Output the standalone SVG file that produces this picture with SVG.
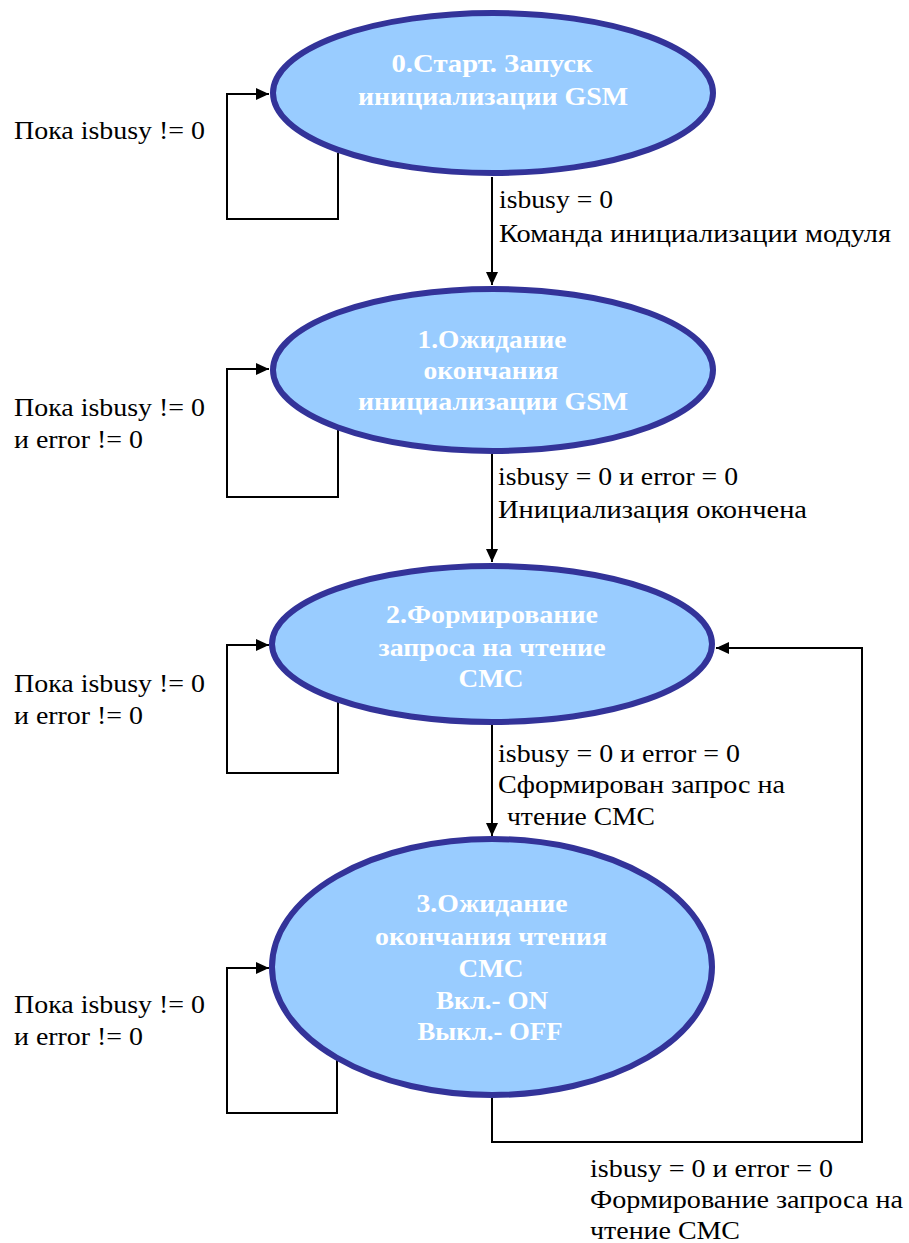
<svg xmlns="http://www.w3.org/2000/svg" width="909" height="1243" viewBox="0 0 909 1243">
<style>
.state{fill:#99CCFF;stroke:#333399;stroke-width:6}
.st{font-family:'Liberation Serif','Times New Roman',serif;font-size:25px;font-weight:bold;fill:#FFFFFF;text-anchor:middle}
.lbl{font-family:'Liberation Serif','Times New Roman',serif;font-size:25px;fill:#000000}
.conn{fill:none;stroke:#000000;stroke-width:2}
</style>
<defs>
<marker id="arr" markerUnits="userSpaceOnUse" markerWidth="14" markerHeight="14" viewBox="0 0 14 14" refX="13" refY="7" orient="auto">
<path d="M0,1 L13,7 L0,13 Z" fill="#000000"/>
</marker>
</defs>
<rect width="909" height="1243" fill="#FFFFFF"/>
<g id="connectors">
<path class="conn" d="M338,153 V219 H227 V94 H269" marker-end="url(#arr)"/>
<path class="conn" d="M338,430 V497 H227 V369 H269" marker-end="url(#arr)"/>
<path class="conn" d="M338,701 V773 H227 V645 H269" marker-end="url(#arr)"/>
<path class="conn" d="M337,1060 V1113 H227 V968 H269" marker-end="url(#arr)"/>
<path class="conn" d="M492,177 V285" marker-end="url(#arr)"/>
<path class="conn" d="M492,454 V562" marker-end="url(#arr)"/>
<path class="conn" d="M492,723 V836" marker-end="url(#arr)"/>
<path class="conn" d="M492,1097 V1142 H862 V648 H716" marker-end="url(#arr)"/>
<text class="lbl" x="14" y="139" textLength="191" lengthAdjust="spacingAndGlyphs">Пока isbusy != 0</text>
<text class="lbl" x="14" y="416" textLength="191" lengthAdjust="spacingAndGlyphs">Пока isbusy != 0</text>
<text class="lbl" x="14" y="448" textLength="129" lengthAdjust="spacingAndGlyphs">и error != 0</text>
<text class="lbl" x="14" y="692" textLength="191" lengthAdjust="spacingAndGlyphs">Пока isbusy != 0</text>
<text class="lbl" x="14" y="724" textLength="129" lengthAdjust="spacingAndGlyphs">и error != 0</text>
<text class="lbl" x="14" y="1013" textLength="191" lengthAdjust="spacingAndGlyphs">Пока isbusy != 0</text>
<text class="lbl" x="14" y="1045" textLength="129" lengthAdjust="spacingAndGlyphs">и error != 0</text>
<text class="lbl" x="499" y="208" textLength="114" lengthAdjust="spacingAndGlyphs">isbusy = 0</text>
<text class="lbl" x="499" y="242" textLength="392" lengthAdjust="spacingAndGlyphs">Команда инициализации модуля</text>
<text class="lbl" x="498" y="485" textLength="240" lengthAdjust="spacingAndGlyphs">isbusy = 0 и error = 0</text>
<text class="lbl" x="498" y="518" textLength="309" lengthAdjust="spacingAndGlyphs">Инициализация окончена</text>
<text class="lbl" x="498" y="762" textLength="242" lengthAdjust="spacingAndGlyphs">isbusy = 0 и error = 0</text>
<text class="lbl" x="498" y="793" textLength="287" lengthAdjust="spacingAndGlyphs">Сформирован запрос на</text>
<text class="lbl" x="507" y="825" textLength="148" lengthAdjust="spacingAndGlyphs">чтение СМС</text>
<text class="lbl" x="590" y="1177" textLength="243" lengthAdjust="spacingAndGlyphs">isbusy = 0 и error = 0</text>
<text class="lbl" x="590" y="1208" textLength="313" lengthAdjust="spacingAndGlyphs">Формирование запроса на</text>
<text class="lbl" x="590" y="1239" textLength="150" lengthAdjust="spacingAndGlyphs">чтение СМС</text>
</g>
<g id="state0">
<ellipse class="state" cx="493" cy="93" rx="220" ry="80"/>
<text class="st" x="492" y="72" textLength="201" lengthAdjust="spacingAndGlyphs">0.Старт. Запуск</text>
<text class="st" x="493" y="105" textLength="270" lengthAdjust="spacingAndGlyphs">инициализации GSM</text>
</g>
<g id="state1">
<ellipse class="state" cx="493" cy="370" rx="220" ry="81"/>
<text class="st" x="492" y="348" textLength="149" lengthAdjust="spacingAndGlyphs">1.Ожидание</text>
<text class="st" x="491" y="379" textLength="135" lengthAdjust="spacingAndGlyphs">окончания</text>
<text class="st" x="493" y="410" textLength="270" lengthAdjust="spacingAndGlyphs">инициализации GSM</text>
</g>
<g id="state2">
<ellipse class="state" cx="492" cy="644" rx="220" ry="78"/>
<text class="st" x="492" y="623" textLength="212" lengthAdjust="spacingAndGlyphs">2.Формирование</text>
<text class="st" x="492" y="656" textLength="227" lengthAdjust="spacingAndGlyphs">запроса на чтение</text>
<text class="st" x="491" y="687" textLength="65" lengthAdjust="spacingAndGlyphs">СМС</text>
</g>
<g id="state3">
<ellipse class="state" cx="492" cy="967" rx="220" ry="128"/>
<text class="st" x="492" y="912" textLength="151" lengthAdjust="spacingAndGlyphs">3.Ожидание</text>
<text class="st" x="491" y="945" textLength="232" lengthAdjust="spacingAndGlyphs">окончания чтения</text>
<text class="st" x="491" y="977" textLength="65" lengthAdjust="spacingAndGlyphs">СМС</text>
<text class="st" x="492" y="1009" textLength="112" lengthAdjust="spacingAndGlyphs">Вкл.- ON</text>
<text class="st" x="490" y="1040" textLength="145" lengthAdjust="spacingAndGlyphs">Выкл.- OFF</text>
</g>
</svg>
